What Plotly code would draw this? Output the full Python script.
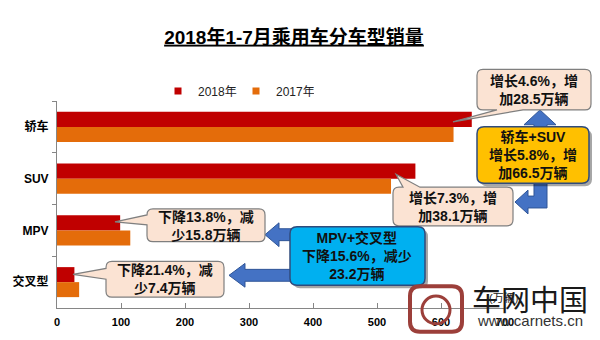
import plotly.graph_objects as go

# ---------------- data ----------------
categories = ["轿车", "SUV", "MPV", "交叉型"]
sales_2018 = [648.1, 560.0, 98.7, 27.2]
sales_2017 = [619.6, 521.9, 114.5, 34.6]
x_ticks = [0, 100, 200, 300, 400, 500, 600, 700]
series_names = ["2018年", "2017年"]
title_text = "2018年1-7月乘用车分车型销量"
note_sedan = "增长4.6%，增<br>加28.5万辆"
note_suv = "增长7.3%，增<br>加38.1万辆"
note_mpv = "下降13.8%，减<br>少15.8万辆"
note_cross = "下降21.4%，减<br>少7.4万辆"
note_up = "轿车+SUV<br>增长5.8%，增<br>加66.5万辆"
note_down = "MPV+交叉型<br>下降15.6%，减少<br>23.2万辆"

# ---------------- geometry helpers ----------------
W, H = 600, 340
L, R, T, B = 57, 505, 101, 310
FONT = "Liberation Sans, Arial, Noto Sans CJK SC, sans-serif"


def PX(x):
    return (x - L) / (R - L)


def PY(y):
    return (B - y) / (B - T)


def P(x, y):
    return f"{PX(x):.5f},{PY(y):.5f}"


def poly(points):
    s = "M" + P(*points[0])
    for p in points[1:]:
        s += " L" + P(*p)
    return s + " Z"


def rrect(x0, y0, x1, y1, r, wedge=None):
    """rounded rect with optional wedge (edge, a, b, tip)."""
    edge, a, b, tip = wedge if wedge else (None, 0, 0, None)
    c = [f"M{P(x0 + r, y0)}"]
    if edge == "top":
        c += [f"L{P(a, y0)}", f"L{P(*tip)}", f"L{P(b, y0)}"]
    c += [f"L{P(x1 - r, y0)}", f"Q{P(x1, y0)} {P(x1, y0 + r)}"]
    if edge == "right":
        c += [f"L{P(x1, a)}", f"L{P(*tip)}", f"L{P(x1, b)}"]
    c += [f"L{P(x1, y1 - r)}", f"Q{P(x1, y1)} {P(x1 - r, y1)}"]
    if edge == "bottom":
        c += [f"L{P(a, y1)}", f"L{P(*tip)}", f"L{P(b, y1)}"]
    c += [f"L{P(x0 + r, y1)}", f"Q{P(x0, y1)} {P(x0, y1 - r)}"]
    if edge == "left":
        c += [f"L{P(x0, a)}", f"L{P(*tip)}", f"L{P(x0, b)}"]
    c += [f"L{P(x0, y0 + r)}", f"Q{P(x0, y0)} {P(x0 + r, y0)}", "Z"]
    return " ".join(c)


# ---------------- figure ----------------
fig = go.Figure()
fig.add_trace(go.Bar(y=categories, x=sales_2018, orientation="h", name=series_names[0],
                     marker=dict(color="#C00000", line=dict(width=0)), showlegend=False))
fig.add_trace(go.Bar(y=categories, x=sales_2017, orientation="h", name=series_names[1],
                     marker=dict(color="#E46C0A", line=dict(width=0)), showlegend=False))
# legend entries with small square symbols
for nm, col in zip(series_names, ["#C00000", "#E46C0A"]):
    fig.add_trace(go.Scatter(x=[None], y=[None], mode="markers", name=nm,
                             marker=dict(symbol="square", size=7, color=col)))

shapes = []
PEACH = "#FBE3D3"
GREY = "#7F7F7F"
BLUE_A = "#4472C4"
NAVY = "#2F4B7C"

# blue arrows (behind boxes)
arrows = [
    [(540, 110), (556, 125), (547, 125), (547, 130), (534, 130), (534, 125), (524, 125)],
    [(547, 182), (547, 209), (528, 209), (528, 215), (515, 203), (528, 191), (528, 197),
     (534, 197), (534, 182)],
    [(265, 236), (279, 224), (279, 230), (296, 230), (296, 242), (279, 242), (279, 248)],
    [(229, 277), (245, 265), (245, 271), (296, 271), (296, 283), (245, 283), (245, 289)],
]
for a in arrows:
    shapes.append(dict(type="path", xref="paper", yref="paper", path=poly(a),
                       fillcolor=BLUE_A, line=dict(color="#2F5597", width=1), layer="above"))

# callouts
callouts = [
    ((477, 69, 591, 110), ("bottom", 523, 497, (453, 122))),
    ((393, 188, 513, 227), ("top", 403, 420, (396, 175))),
    ((147, 210, 265, 243), ("left", 226, 216, (115, 223))),
    ((106, 263, 224, 299), ("left", 281, 270, (73, 276))),
]
for (x0, y0, x1, y1), wd in callouts:
    shapes.append(dict(type="path", xref="paper", yref="paper",
                       path=rrect(x0, y0, x1, y1, 6, wd),
                       fillcolor=PEACH, line=dict(color=GREY, width=1.2), layer="above"))

# highlighted boxes with shadows
for (x0, y0, x1, y1), col in [((477, 127, 589, 184), "#FFC000"),
                              ((290, 228, 425, 287), "#00B0F0")]:
    shapes.append(dict(type="path", xref="paper", yref="paper",
                       path=rrect(x0 + 3, y0 + 3, x1 + 3, y1 + 3, 7),
                       fillcolor="rgba(0,0,0,0.35)", line=dict(width=0), layer="above"))
    shapes.append(dict(type="path", xref="paper", yref="paper",
                       path=rrect(x0, y0, x1, y1, 7),
                       fillcolor=col, line=dict(color=NAVY, width=1.5), layer="above"))

# watermark logo (approximation)
shapes.append(dict(type="path", xref="paper", yref="paper",
                   path=rrect(410, 288, 462, 334, 10),
                   fillcolor="rgba(0,0,0,0)", line=dict(color="#9C3F3A", width=4), layer="above"))
shapes.append(dict(type="circle", xref="paper", yref="paper",
                   x0=PX(422), x1=PX(450), y0=PY(326), y1=PY(298),
                   fillcolor="rgba(0,0,0,0)", line=dict(color="#9C3F3A", width=3), layer="above"))

annotations = []
texts = [
    (note_sedan, 534, 90),
    (note_suv, 453, 208),
    (note_mpv, 206, 227),
    (note_cross, 165, 281),
    (note_up, 533, 156),
    (note_down, 357, 258),
]
for t, cx, cy in texts:
    annotations.append(dict(text=t, xref="paper", yref="paper", x=PX(cx), y=PY(cy),
                            xanchor="center", yanchor="middle", showarrow=False, align="center",
                            font=dict(family=FONT, size=14, color="#111111", weight="bold")))

annotations += [
    dict(text="车网中国", xref="paper", yref="paper", x=PX(530), y=PY(300), xanchor="center",
         yanchor="middle", showarrow=False,
         font=dict(family="Noto Sans CJK SC", size=29, color="#1a1a1a")),
    dict(text="www.carnets.cn", xref="paper", yref="paper", x=PX(530), y=PY(323),
         xanchor="center", yanchor="middle", showarrow=False,
         font=dict(family=FONT, size=15, color="#333333")),
    dict(text="(万辆)", xref="paper", yref="paper", x=PX(503), y=PY(299), xanchor="center",
         yanchor="middle", showarrow=False, font=dict(family=FONT, size=11, color="#222222")),
]

fig.update_layout(
    width=W, height=H,
    margin=dict(l=L, r=W - R, t=T, b=H - B, pad=0),
    paper_bgcolor="white", plot_bgcolor="white",
    barmode="group", bargap=0.42, bargroupgap=0,
    font=dict(family=FONT, size=12, color="#111111"),
    title=dict(text=title_text, xref="container", yref="container", x=294 / W, y=1 - 37 / H,
               xanchor="center", yanchor="middle",
               font=dict(family=FONT, size=19, color="black", weight="bold", lineposition="under")),
    legend=dict(orientation="h", xref="paper", yref="paper", x=PX(158), y=PY(91),
                xanchor="left", yanchor="middle", font=dict(family=FONT, size=12, color="#222222"),
                itemwidth=30, entrywidth=33, entrywidthmode="pixels",
                bgcolor="rgba(0,0,0,0)", borderwidth=0, itemclick=False),
    xaxis=dict(range=[0, 700], tickvals=x_ticks, ticktext=[str(v) for v in x_ticks],
               showline=True, linecolor="#868686", linewidth=1, ticks="inside", ticklen=5,
               tickcolor="#868686", showgrid=False, zeroline=False, ticklabelstandoff=4,
               tickfont=dict(family=FONT, size=11, color="black", weight="bold")),
    yaxis=dict(categoryorder="array", categoryarray=categories, autorange="reversed",
               showline=True, linecolor="#868686", linewidth=1, ticks="outside", ticklen=4,
               tickson="boundaries", tickcolor="#868686", showgrid=False, zeroline=False,
               ticklabelstandoff=5,
               tickfont=dict(family=FONT, size=12, color="black", weight="bold")),
    shapes=shapes,
    annotations=annotations,
)

fig.write_html("out.html")
